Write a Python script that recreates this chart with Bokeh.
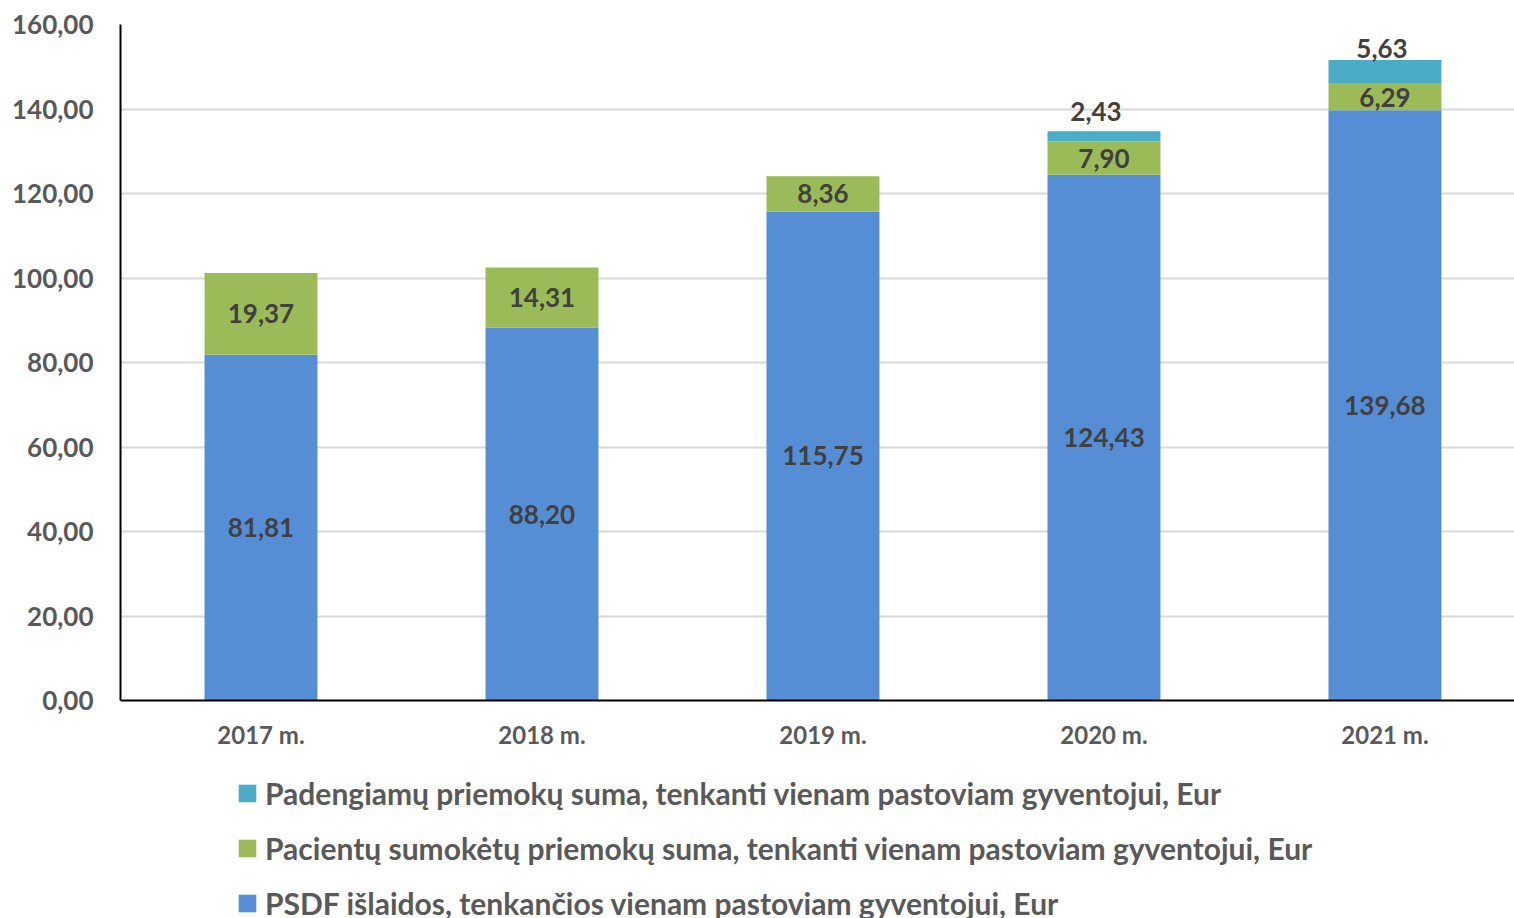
from bokeh.plotting import figure
from bokeh.layouts import column
from bokeh.models import ColumnDataSource, Range1d, FixedTicker, Legend, LegendItem
from bokeh.core.properties import value
from bokeh.embed import file_html
from bokeh.resources import INLINE

years = ["2017 m.", "2018 m.", "2019 m.", "2020 m.", "2021 m."]
psdf = [81.81, 88.20, 115.75, 124.43, 139.68]
pacientu = [19.37, 14.31, 8.36, 7.90, 6.29]
padengiamu = [0.0, 0.0, 0.0, 2.43, 5.63]
series_names = [
    "PSDF išlaidos, tenkančios vienam pastoviam gyventojui, Eur",
    "Pacientų sumokėtų priemokų suma, tenkanti vienam pastoviam gyventojui, Eur",
    "Padengiamų priemokų suma, tenkanti vienam pastoviam gyventojui, Eur",
]
colors = ["#558ED5", "#9BBB59", "#4BACC6"]
y_ticks = [0, 20, 40, 60, 80, 100, 120, 140, 160]

FONT = value("Lato")

def fmt(v):
    return f"{v:.2f}".replace(".", ",")

xs = list(range(len(years)))
src = ColumnDataSource(dict(x=xs, psdf=psdf, pac=pacientu, pad=padengiamu))

p = figure(width=1514, height=758, x_range=Range1d(-0.5, 4.461), y_range=Range1d(0, 160),
           output_backend="svg", toolbar_location=None,
           min_border_left=120, min_border_right=0, min_border_top=24, min_border_bottom=58)
p.outline_line_color = None
p.background_fill_color = "white"

rs = p.vbar_stack(["psdf", "pac", "pad"], x="x", width=0.402, source=src,
                  color=colors, line_color=None)

# grid
p.xgrid.grid_line_color = None
p.ygrid.grid_line_color = "#D9D9D9"
p.ygrid.grid_line_width = 2
p.ygrid.ticker = FixedTicker(ticks=y_ticks)

# y axis
p.yaxis.ticker = FixedTicker(ticks=y_ticks)
p.yaxis.major_label_overrides = {t: fmt(t) for t in y_ticks}
p.yaxis.axis_line_color = "black"
p.yaxis.axis_line_width = 2
p.yaxis.major_tick_line_color = None
p.yaxis.minor_tick_line_color = None
p.yaxis.major_tick_out = 0
p.yaxis.major_label_standoff = 27
p.yaxis.major_label_text_font = "Lato"
p.yaxis.major_label_text_font_style = "bold"
p.yaxis.major_label_text_font_size = "26px"
p.yaxis.major_label_text_color = "#595959"

# x axis
p.xaxis.ticker = FixedTicker(ticks=xs)
p.xaxis.major_label_overrides = {i: y for i, y in enumerate(years)}
p.xaxis.axis_line_color = "black"
p.xaxis.axis_line_width = 2
p.xaxis.major_tick_line_color = None
p.xaxis.minor_tick_line_color = None
p.xaxis.major_tick_out = 0
p.xaxis.major_label_standoff = 19
p.xaxis.major_label_text_font = "Lato"
p.xaxis.major_label_text_font_style = "bold"
p.xaxis.major_label_text_font_size = "24px"
p.xaxis.major_label_text_color = "#595959"

# data labels
lab_psdf = ColumnDataSource(dict(x=xs, y=[v / 2 for v in psdf], t=[fmt(v) for v in psdf]))
p.text(x="x", y="y", text="t", source=lab_psdf, text_align="center", text_baseline="middle",
       text_font=FONT, text_font_style="bold", text_font_size="26px", text_color="#404040")

lab_pac = ColumnDataSource(dict(x=xs, y=[a + b / 2 for a, b in zip(psdf, pacientu)],
                                t=[fmt(v) for v in pacientu]))
p.text(x="x", y="y", text="t", source=lab_pac, text_align="center", text_baseline="middle",
       text_font=FONT, text_font_style="bold", text_font_size="26px", text_color="#404040")

pad_x, pad_y, pad_t = [], [], []
for i, (a, b, c) in enumerate(zip(psdf, pacientu, padengiamu)):
    if c > 0:
        pad_x.append(i)
        pad_y.append(a + b + c)
        pad_t.append(fmt(c))
pad_dx = [-8, -3]
pad_dy = [-20, -11]
lab_pad = ColumnDataSource(dict(x=pad_x, y=pad_y, t=pad_t, dx=pad_dx, dy=pad_dy))
p.text(x="x", y="y", text="t", source=lab_pad, text_align="center", text_baseline="middle",
       x_offset="dx", y_offset="dy",
       text_font=FONT, text_font_style="bold", text_font_size="26px", text_color="#404040")

# legend (separate strip below the chart; its bars lie beyond the right edge of the page)
leg = figure(width=1514, height=160, x_range=Range1d(-60, -59), y_range=Range1d(0, 1),
             output_backend="svg", toolbar_location=None,
             x_axis_location=None, y_axis_location=None,
             min_border_left=0, min_border_right=0, min_border_top=0, min_border_bottom=0)
leg.outline_line_color = None
leg.xgrid.visible = False
leg.ygrid.visible = False
leg_rs = leg.vbar_stack(["psdf", "pac", "pad"], x="x", width=0.402, source=src,
                        color=colors, line_color=None)
items = [LegendItem(label=series_names[i], renderers=[leg_rs[i]]) for i in (2, 1, 0)]
legend = Legend(items=items, location=(116, -3), orientation="vertical",
                glyph_width=22, glyph_height=22, label_height=36, spacing=19,
                padding=0, margin=0, border_line_color=None, background_fill_alpha=0,
                label_standoff=7, label_text_font="Lato", label_text_font_style="bold",
                label_text_font_size="30px", label_text_color="#595959")
leg.add_layout(legend)

layout = column(p, leg, spacing=0)
open("out.html", "w").write(file_html(layout, INLINE))
